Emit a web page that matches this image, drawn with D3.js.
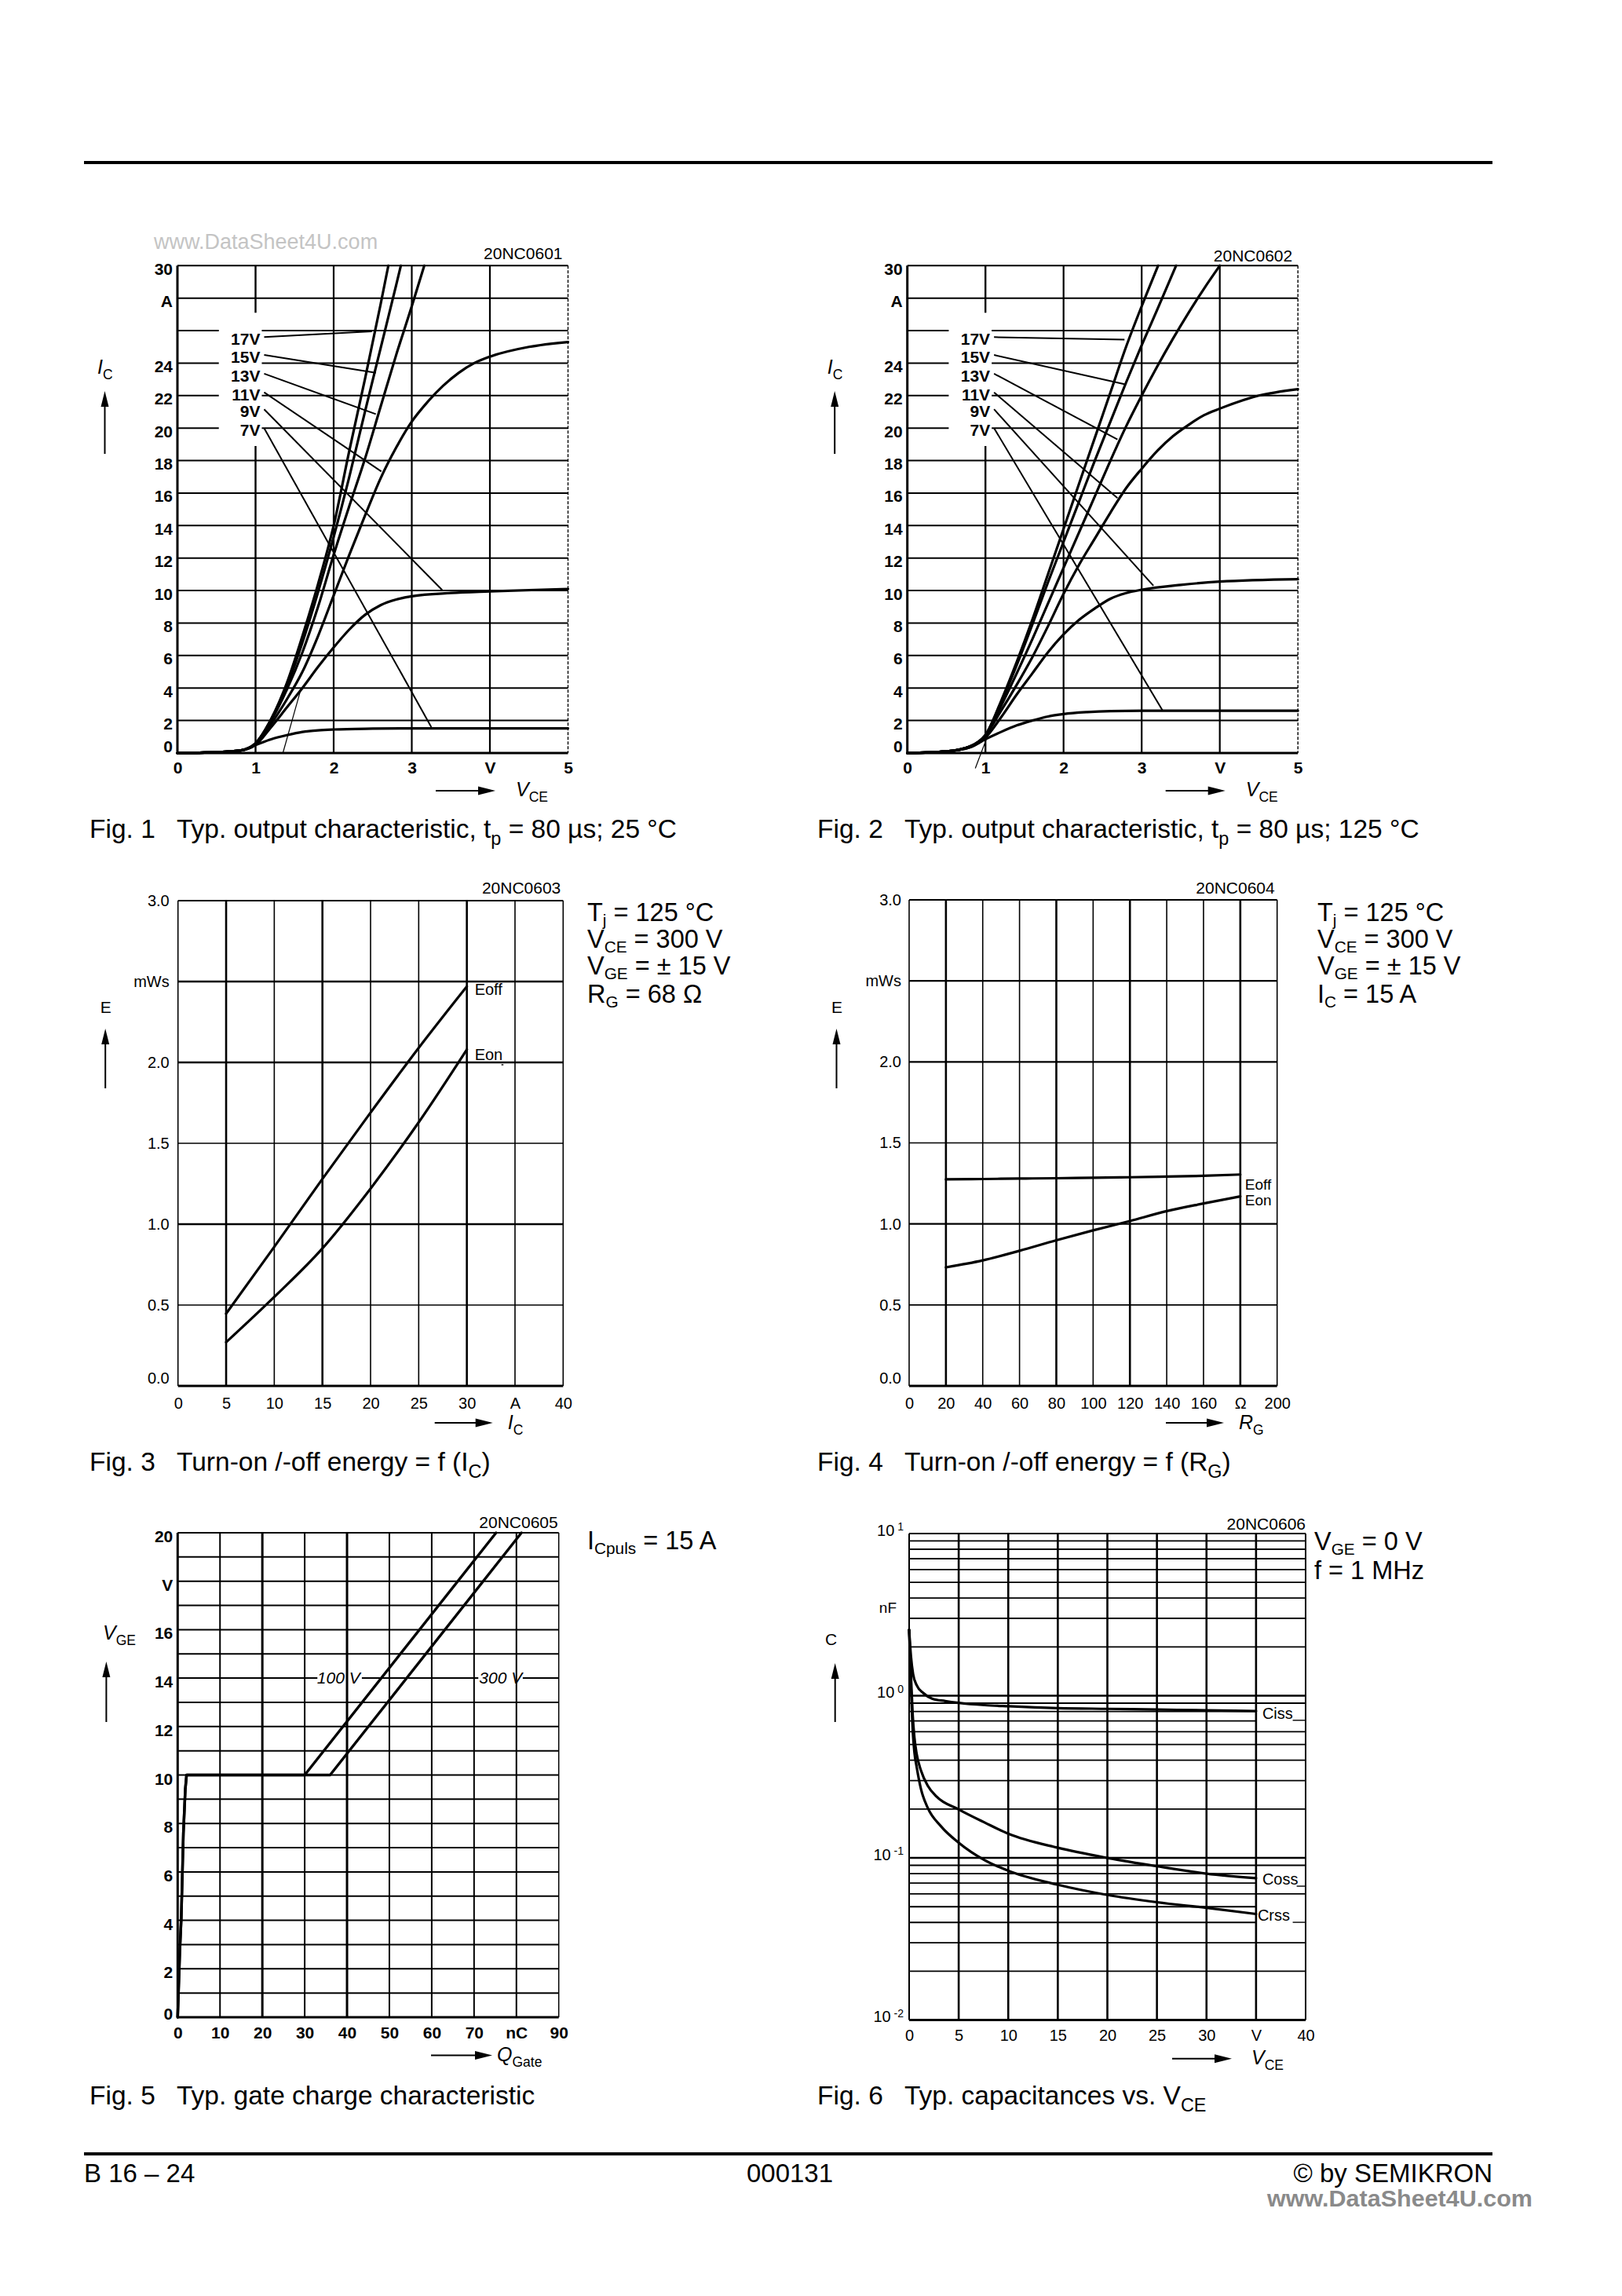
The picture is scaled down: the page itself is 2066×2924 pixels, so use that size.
<!DOCTYPE html>
<html><head><meta charset="utf-8">
<script src="https://cdn.jsdelivr.net/npm/d3@7"></script>
<style>
html,body{margin:0;padding:0;background:#fff;}
svg{display:block;background:#fff;}
</style></head><body>
<svg id="page" width="2066" height="2924"></svg>
<script>
// ================= DATA =================
// Fig 1: output characteristic 25 °C  [VCE (V), IC (A)]
const fig1Curve7V  = [[0,0],[0.5,0.05],[0.8,0.15],[1.0,0.5],[1.2,0.85],[1.4,1.1],[1.6,1.3],[1.8,1.4],[2.0,1.45],[2.5,1.5],[3.0,1.52],[5.0,1.52]];
const fig1Curve9V  = [[0,0],[0.5,0.05],[0.8,0.15],[1.0,0.5],[1.2,1.6],[1.4,2.8],[1.6,4.0],[1.8,5.3],[2.0,6.5],[2.2,7.6],[2.4,8.5],[2.6,9.1],[2.8,9.45],[3.0,9.65],[3.5,9.85],[4.0,9.95],[5.0,10.1]];
const fig1Curve11V = [[0,0],[0.5,0.05],[0.8,0.15],[1.0,0.55],[1.2,1.8],[1.4,3.3],[1.6,5.0],[1.8,7.2],[2.0,9.7],[2.2,12.2],[2.4,14.6],[2.6,16.9],[2.8,18.8],[3.0,20.4],[3.2,21.6],[3.4,22.6],[3.6,23.4],[3.8,24.0],[4.0,24.4],[4.5,25.0],[5.0,25.3]];
const fig1Curve13V = [[0,0],[0.5,0.05],[0.8,0.15],[1.0,0.6],[1.2,2.0],[1.4,3.9],[1.6,6.2],[1.8,9.0],[2.0,12.2],[2.2,15.2],[2.4,18.1],[2.6,21.3],[2.8,24.5],[3.0,27.5],[3.16,30]];
const fig1Curve15V = [[0,0],[0.5,0.05],[0.8,0.15],[1.0,0.6],[1.2,2.05],[1.4,4.1],[1.6,6.8],[1.8,9.9],[2.0,13.3],[2.2,17.0],[2.4,21.0],[2.6,24.9],[2.8,28.8],[2.86,30]];
const fig1Curve17V = [[0,0],[0.5,0.05],[0.8,0.15],[1.0,0.6],[1.2,2.1],[1.4,4.3],[1.6,7.2],[1.8,10.4],[2.0,14.0],[2.2,18.6],[2.4,23.0],[2.6,27.6],[2.70,30]];
const fig1LeaderStart = [[1.11,25.6],[1.11,24.5],[1.11,23.35],[1.11,22.2],[1.11,21.16],[1.11,20.0]];
const fig1LeaderEnd   = [[2.49,25.96],[2.54,23.4],[2.54,20.86],[2.61,17.33],[3.39,10.03],[3.25,1.6]];
const fig1Tangent = [[1.35,0],[1.57,3.75]];

// Fig 2: output characteristic 125 °C
const fig2Curve7V  = [[0,0],[0.5,0.1],[0.8,0.35],[1.0,0.85],[1.2,1.3],[1.4,1.7],[1.6,2.0],[1.8,2.25],[2.0,2.4],[2.3,2.52],[2.6,2.58],[3.0,2.6],[5.0,2.6]];
const fig2Curve9V  = [[0,0],[0.5,0.1],[0.8,0.35],[1.0,0.95],[1.2,2.2],[1.4,3.6],[1.6,4.9],[1.8,6.2],[2.0,7.3],[2.2,8.2],[2.4,8.9],[2.6,9.5],[2.8,9.85],[3.0,10.05],[3.5,10.35],[4.0,10.55],[5.0,10.7]];
const fig2Curve11V = [[0,0],[0.5,0.1],[0.8,0.4],[1.0,1.1],[1.2,2.6],[1.4,4.2],[1.6,5.9],[1.8,7.8],[2.0,9.8],[2.2,11.6],[2.4,13.2],[2.6,14.8],[2.8,16.3],[3.0,17.5],[3.2,18.6],[3.4,19.5],[3.6,20.2],[3.8,20.8],[4.0,21.2],[4.5,22.0],[5.0,22.4]];
const fig2Curve13V = [[0,0],[0.5,0.1],[0.8,0.4],[1.0,1.1],[1.2,2.9],[1.4,4.9],[1.6,7.0],[1.8,9.2],[2.0,11.4],[2.2,13.6],[2.4,15.8],[2.6,18.0],[2.8,20.1],[3.0,22.0],[3.2,23.8],[3.4,25.5],[3.6,27.1],[3.8,28.6],[4.0,30]];
const fig2Curve15V = [[0,0],[0.5,0.1],[0.8,0.4],[1.0,1.1],[1.2,3.1],[1.4,5.4],[1.6,7.9],[1.8,10.5],[2.0,13.0],[2.2,15.5],[2.4,18.0],[2.6,20.4],[2.8,22.8],[3.0,25.1],[3.2,27.3],[3.44,30]];
const fig2Curve17V = [[0,0],[0.5,0.1],[0.8,0.4],[1.0,1.1],[1.2,3.2],[1.4,5.6],[1.6,8.2],[1.8,11.0],[2.0,13.8],[2.2,16.6],[2.4,19.4],[2.6,22.2],[2.8,25.0],[3.0,27.5],[3.21,30]];
const fig2LeaderStart = [[1.11,25.6],[1.11,24.5],[1.11,23.35],[1.11,22.2],[1.11,21.16],[1.11,20.0]];
const fig2LeaderEnd   = [[2.78,25.45],[2.78,22.7],[2.69,19.3],[2.69,15.7],[3.15,10.3],[3.27,2.6]];
const fig2Tangent = [[0.87,-0.94],[1.07,1.6]];

const gateLabels = ["17V","15V","13V","11V","9V","7V"];
const fig12XTicks = [0,1,2,3,4,5];
const fig12XLabels = ["0","1","2","3","V","5"];
const fig12YTicks = [0,2,4,6,8,10,12,14,16,18,20,22,24,26,28,30];
const fig12YLabels = ["0","2","4","6","8","10","12","14","16","18","20","22","24","","A","30"];

// Fig 3: E = f(IC)  [IC (A), E (mWs)]
const fig3Eoff = [[5,0.447],[10,0.86],[15,1.28],[20,1.69],[25,2.09],[30,2.47]];
const fig3Eon  = [[5,0.27],[10,0.55],[15,0.85],[20,1.22],[25,1.63],[30,2.08]];
const fig3XTicks = [0,5,10,15,20,25,30,35,40];
const fig3XLabels = ["0","5","10","15","20","25","30","A","40"];

// Fig 4: E = f(RG)  [RG (Ohm), E (mWs)]
const fig4Eoff = [[20,1.275],[40,1.277],[60,1.28],[80,1.282],[100,1.285],[120,1.288],[140,1.292],[160,1.297],[180,1.305]];
const fig4Eon  = [[20,0.732],[40,0.775],[60,0.834],[80,0.899],[100,0.96],[120,1.018],[140,1.079],[160,1.126],[180,1.17]];
const fig4XTicks = [0,20,40,60,80,100,120,140,160,180,200];
const fig4XLabels = ["0","20","40","60","80","100","120","140","160","Ω","200"];

const energyYTicks = [0,0.5,1.0,1.5,2.0,2.5,3.0];
const energyYLabels = ["0.0","0.5","1.0","1.5","2.0","mWs","3.0"];

// Fig 5: gate charge  [QGate (nC), VGE (V)]
const fig5Curve100V = [[0,0],[0.5,2.7],[0.85,4.1],[1.35,7.6],[1.8,9.4],[2.1,10],[30,10],[75.2,20]];
const fig5Curve300V = [[0,0],[0.5,2.7],[0.85,4.1],[1.35,7.6],[1.8,9.4],[2.1,10],[36,10],[81.2,20]];
const fig5XTicks = [0,10,20,30,40,50,60,70,80,90];
const fig5XLabels = ["0","10","20","30","40","50","60","70","nC","90"];
const fig5YTicks = [0,2,4,6,8,10,12,14,16,18,20];
const fig5YLabels = ["0","2","4","6","8","10","12","14","16","V","20"];

// Fig 6: capacitances  [VCE (V), C (nF)]
const fig6Ciss = [[0,2.55],[0.18,1.76],[0.4,1.36],[0.76,1.16],[1.42,1.04],[2.31,0.96],[3.64,0.927],[5,0.903],[7.64,0.875],[10,0.861],[15,0.839],[20,0.83],[25,0.822],[30,0.813],[35,0.805]];
const fig6Coss = [[0,2.55],[0.18,1.36],[0.36,0.76],[0.53,0.554],[0.76,0.437],[1.2,0.345],[1.87,0.279],[2.76,0.239],[5,0.199],[7.64,0.165],[10,0.141],[15,0.1155],[20,0.1],[25,0.0888],[30,0.080],[35,0.075]];
const fig6Crss = [[0,2.55],[0.18,1.16],[0.36,0.615],[0.53,0.449],[0.76,0.364],[1.2,0.265],[1.87,0.204],[3.2,0.157],[5,0.124],[7.64,0.0966],[10,0.0833],[15,0.0683],[20,0.0591],[25,0.0533],[30,0.0492],[35,0.0451]];
const fig6XTicks = [0,5,10,15,20,25,30,35,40];
const fig6XLabels = ["0","5","10","15","20","25","30","V","40"];
const fig6YDecades = [10,1,0.1,0.01];
const fig6YExponents = ["1","0","-1","-2"];
const fig6Minor = [0.02,0.03,0.04,0.05,0.06,0.07,0.08,0.09,0.2,0.3,0.4,0.5,0.6,0.7,0.8,0.9,2,3,4,5,6,7,8,9];
const fig6ShortMinor = [0.8,0.7,0.08,0.07,0.05,0.04];

// ================= DRAWING =================
const FONT = '"Liberation Sans", Arial, Helvetica, sans-serif';
const svg = d3.select("#page");
svg.append("rect").attr("width",2066).attr("height",2924).attr("fill","#fff");

function seg(g,x1,y1,x2,y2,w,dash){
  const l = g.append("line").attr("x1",x1).attr("y1",y1).attr("x2",x2).attr("y2",y2)
    .attr("stroke","#000").attr("stroke-width",w);
  if(dash) l.attr("stroke-dasharray",dash);
  return l;
}
function rich(g,x,y,parts,size,opts={}){
  const t = g.append("text").attr("x",x).attr("y",y).attr("font-size",size)
    .attr("font-family",FONT).attr("fill",opts.fill||"#000")
    .attr("text-anchor",opts.anchor||"start");
  if(opts.weight) t.attr("font-weight",opts.weight);
  if(opts.style) t.attr("font-style",opts.style);
  const subK = opts.subK || 0.28, subS = opts.subS || 0.7;
  let shift = 0;
  parts.forEach(p=>{
    const o = typeof p === "string" ? {t:p} : p;
    const target = o.sub ? size*subK : (o.sup ? -size*0.42 : 0);
    const ts = t.append("tspan").text(o.t).attr("dy",target-shift);
    shift = target;
    if(o.sub||o.sup) ts.attr("font-size",size*subS);
    if(o.italic) ts.attr("font-style","italic");
  });
  return t;
}
function upArrow(g,x,top,bottom){
  seg(g,x,bottom,x,top+12,2);
  g.append("path").attr("d",`M${x},${top} L${x-5},${top+20} L${x+5},${top+20} Z`).attr("fill","#000");
}
function rightArrow(g,x1,x2,y){
  seg(g,x1,y,x2-12,y,2);
  g.append("path").attr("d",`M${x2},${y} L${x2-22},${y-5.5} L${x2-22},${y+5.5} Z`).attr("fill","#000");
}
function axisText(g,scale,orient,values,labels,o){
  const ax = (orient==="left"?d3.axisLeft(scale):d3.axisBottom(scale))
    .tickValues(values).tickFormat((d,i)=>labels[i]).tickSize(0).tickPadding(o.pad);
  const a = g.append("g")
    .attr("transform", orient==="left"?`translate(${o.at},0)`:`translate(0,${o.at})`)
    .call(ax);
  a.select(".domain").remove();
  a.selectAll(".tick line").remove();
  a.selectAll("text").attr("font-size",o.size).attr("font-family",FONT)
    .attr("font-weight",o.weight||"normal").attr("fill","#000");
  if(o.dy) a.selectAll("text").attr("dy",o.dy);
  if(o.zeroDy) a.selectAll("text").filter(d=>d===0).attr("dy",o.zeroDy);
  return a;
}
function drawCurve(g,x,y,data,w,curve){
  const line = d3.line().x(d=>x(d[0])).y(d=>y(d[1])).curve(curve||d3.curveMonotoneX);
  g.append("path").datum(data).attr("d",line).attr("fill","none")
    .attr("stroke","#000").attr("stroke-width",w).attr("stroke-linejoin","round").attr("stroke-linecap","round");
}

// ---------- header / footer ----------
svg.append("rect").attr("x",107).attr("y",205).attr("width",1794).attr("height",4).attr("fill","#000");
svg.append("rect").attr("x",107).attr("y",2741).attr("width",1794).attr("height",4).attr("fill","#000");
rich(svg,196,317,["www.DataSheet4U.com"],27,{fill:"#c4c4c4"});
rich(svg,107,2779,["B 16 – 24"],33);
rich(svg,1006,2779,["000131"],33,{anchor:"middle"});
rich(svg,1901,2779,["© by SEMIKRON"],33,{anchor:"end"});
svg.append("text").attr("x",1614).attr("y",2810).attr("font-family",FONT).attr("font-size",30)
  .attr("font-weight","bold").attr("fill","#8a8a8a").attr("textLength",338).attr("lengthAdjust","spacingAndGlyphs")
  .text("www.DataSheet4U.com");

// ---------- Fig 1 & 2 ----------
function outputChart(cfg){
  const g = svg.append("g");
  const x = d3.scaleLinear().domain([0,5]).range([cfg.l,cfg.r]);
  const y = d3.scaleLinear().domain([0,30]).range([cfg.b,cfg.t]);
  fig12YTicks.forEach(v=>{
    if(v===0||v===30) return;
    if(v>=20 && v<=26){ seg(g,x(0),y(v),x(0.53),y(v),2); seg(g,x(1.08),y(v),x(5),y(v),2); }
    else seg(g,x(0),y(v),x(5),y(v),2);
  });
  [1,2,3,4].forEach(v=>{
    if(v===1){ seg(g,x(1),y(30),x(1),y(27.1),2.4); seg(g,x(1),y(18.9),x(1),y(0),2.4); }
    else seg(g,x(v),y(30),x(v),y(0),2.2);
  });
  seg(g,x(0),y(0),x(0),y(30),3);
  seg(g,x(0),y(0),x(5),y(0),3);
  seg(g,x(0),y(30),x(5),y(30),2);
  seg(g,x(5),y(30),x(5),y(0),1.4,"4,2");
  axisText(g,y,"left",fig12YTicks,fig12YLabels,{at:cfg.l,pad:6,size:21,weight:"bold",dy:"0.52em",zeroDy:"-0.05em"});
  axisText(g,x,"bottom",fig12XTicks,fig12XLabels,{at:cfg.b,pad:11,size:21,weight:"bold"});
  cfg.starts.forEach((s,i)=>{
    const e = cfg.ends[i];
    seg(g,x(s[0]),y(s[1]),x(e[0]),y(e[1]),2);
    rich(g,x(s[0])-5,y(s[1])+10,[gateLabels[i]],21,{anchor:"end",weight:"bold"});
  });
  seg(g,x(cfg.tangent[0][0]),y(cfg.tangent[0][1]),x(cfg.tangent[1][0]),y(cfg.tangent[1][1]),1.2);
  cfg.curves.forEach(c=>drawCurve(g,x,y,c,3.2));
  rich(g,cfg.r-7,cfg.idY,[cfg.id],21,{anchor:"end"});
  rich(g,cfg.l-102,476,[{t:"I",italic:true},{t:"C",sub:true}],25);
  upArrow(g,cfg.l-92.5,498,578);
  rightArrow(g,cfg.l+329,cfg.l+405,1007);
  rich(g,cfg.l+431,1014,[{t:"V",italic:true},{t:"CE",sub:true}],25);
  return {x,y,g};
}
outputChart({l:226,r:723.5,t:338.3,b:959,id:"20NC0601",idY:330,
  curves:[fig1Curve7V,fig1Curve9V,fig1Curve11V,fig1Curve13V,fig1Curve15V,fig1Curve17V],
  starts:fig1LeaderStart,ends:fig1LeaderEnd,tangent:fig1Tangent});
outputChart({l:1155.7,r:1653.2,t:338.3,b:959,id:"20NC0602",idY:333,
  curves:[fig2Curve7V,fig2Curve9V,fig2Curve11V,fig2Curve13V,fig2Curve15V,fig2Curve17V],
  starts:fig2LeaderStart,ends:fig2LeaderEnd,tangent:fig2Tangent});

rich(svg,114,1067,["Fig. 1"],33.5);
rich(svg,225,1067,["Typ. output characteristic, t",{t:"p",sub:true}," = 80 µs; 25 °C"],33.5);
rich(svg,1041,1067,["Fig. 2"],33.5);
rich(svg,1152,1067,["Typ. output characteristic, t",{t:"p",sub:true}," = 80 µs; 125 °C"],33.5);

// ---------- Fig 3 & 4 ----------
function energyChart(cfg){
  const g = svg.append("g");
  const x = d3.scaleLinear().domain(cfg.xd).range([cfg.l,cfg.r]);
  const y = d3.scaleLinear().domain([0,3]).range([cfg.b,cfg.t]);
  cfg.vgrid.forEach(v=>seg(g,x(v),y(3),x(v),y(0),cfg.thick.includes(v)?2.6:1.6));
  [0.5,1.0,1.5,2.0,2.5].forEach(v=>seg(g,x(cfg.xd[0]),y(v),x(cfg.xd[1]),y(v),(v===2.0||v===2.5||v===1.0)?2.4:1.6));
  seg(g,x(cfg.xd[0]),y(0),x(cfg.xd[1]),y(0),3);
  seg(g,x(cfg.xd[0]),y(0),x(cfg.xd[0]),y(3),1.6);
  seg(g,x(cfg.xd[0]),y(3),x(cfg.xd[1]),y(3),2);
  seg(g,x(cfg.xd[1]),y(3),x(cfg.xd[1]),y(0),1.6);
  axisText(g,y,"left",energyYTicks,energyYLabels,{at:cfg.l,pad:cfg.ypad,size:20,zeroDy:"-0.2em"});
  axisText(g,x,"bottom",cfg.xticks,cfg.xlabels,{at:cfg.b,pad:15,size:20});
  drawCurve(g,x,y,cfg.eoff,3.2);
  drawCurve(g,x,y,cfg.eon,3.2);
  rich(g,cfg.r-3,1137.5,[cfg.id],21,{anchor:"end"});
  rich(g,cfg.l-99,1290,["E"],21);
  upArrow(g,cfg.l-92.5,1310,1386);
  rightArrow(g,cfg.l+327,cfg.l+401,1812);
  rich(g,cfg.l+420,1820,cfg.xtitle,25);
  return {x,y,g};
}
const f3 = energyChart({l:226.7,r:717.3,t:1147,b:1765,xd:[0,40],vgrid:[5,10,15,20,25,30,35],thick:[5,15,30],
  xticks:fig3XTicks,xlabels:fig3XLabels,eoff:fig3Eoff,eon:fig3Eon,id:"20NC0603",ypad:11,
  xtitle:[{t:"I",italic:true},{t:"C",sub:true}]});
rich(f3.g,f3.x(30)+10,f3.y(2.45)+7,["Eoff"],20);
rich(f3.g,f3.x(30)+10,f3.y(2.05)+7,["Eon"],20);
seg(f3.g,f3.x(30)+44,f3.y(2.0)+3,f3.x(33.8),f3.y(2.0)+3,1.4);

const f4 = energyChart({l:1158,r:1626.7,t:1146,b:1765,xd:[0,200],vgrid:[20,40,60,80,100,120,140,160,180],thick:[20,80,120,180],
  xticks:fig4XTicks,xlabels:fig4XLabels,eoff:fig4Eoff,eon:fig4Eon,id:"20NC0604",ypad:10,
  xtitle:[{t:"R",italic:true},{t:"G",sub:true}]});
rich(f4.g,f4.x(180)+6,f4.y(1.245)+7,["Eoff"],19);
rich(f4.g,f4.x(180)+6,f4.y(1.15)+7,["Eon"],19);

const annot = [
  [{t:"T"},{t:"j",sub:true},{t:" = 125 °C"}],
  [{t:"V"},{t:"CE",sub:true},{t:" = 300 V"}],
  [{t:"V"},{t:"GE",sub:true},{t:" = ± 15 V"}],
];
const aOpt = {subK:0.18, subS:0.64};
const annotY = [1173,1207,1241,1277];
annot.forEach((p,i)=>{ rich(svg,748,annotY[i],p,32.5,aOpt); rich(svg,1678,annotY[i],p,32.5,aOpt); });
rich(svg,748,annotY[3],["R",{t:"G",sub:true}," = 68 Ω"],32.5,aOpt);
rich(svg,1678,annotY[3],["I",{t:"C",sub:true}," = 15 A"],32.5,aOpt);

rich(svg,114,1873,["Fig. 3"],33.5);
rich(svg,225,1873,["Turn-on /-off energy = f (I",{t:"C",sub:true},")"],33.5);
rich(svg,1041,1873,["Fig. 4"],33.5);
rich(svg,1152,1873,["Turn-on /-off energy = f (R",{t:"G",sub:true},")"],33.5);

// ---------- Fig 5 ----------
(function(){
  const g = svg.append("g");
  const l=226.3,r=711.7,t=1952,b=2569;
  const x = d3.scaleLinear().domain([0,90]).range([l,r]);
  const y = d3.scaleLinear().domain([0,20]).range([b,t]);
  d3.range(1,20).forEach(v=>{
    if(v===14){ seg(g,x(0),y(v),x(33),y(v),2); seg(g,x(43.5),y(v),x(71),y(v),2); seg(g,x(81.5),y(v),x(90),y(v),2); }
    else seg(g,x(0),y(v),x(90),y(v),2);
  });
  [10,20,30,40,50,60,70,80].forEach(v=>seg(g,x(v),y(20),x(v),y(0),(v===20||v===40)?3:2));
  seg(g,x(0),y(0),x(0),y(20),3);
  seg(g,x(0),y(0),x(90),y(0),3);
  seg(g,x(0),y(20),x(90),y(20),2);
  seg(g,x(90),y(20),x(90),y(0),1.5);
  axisText(g,y,"left",fig5YTicks,fig5YLabels,{at:l,pad:6,size:21,weight:"bold",dy:"0.55em",zeroDy:"0.1em"});
  axisText(g,x,"bottom",fig5XTicks,fig5XLabels,{at:b,pad:12,size:21,weight:"bold"});
  drawCurve(g,x,y,fig5Curve300V,3.4,d3.curveLinear);
  drawCurve(g,x,y,fig5Curve100V,3.4,d3.curveLinear);
  rich(g,x(38),y(14)+7,["100 V"],21,{anchor:"middle",style:"italic"});
  rich(g,x(76.3),y(14)+7,["300 V"],21,{anchor:"middle",style:"italic"});
  rich(g,r-1,1945.5,["20NC0605"],21,{anchor:"end"});
  rich(g,131,2088,[{t:"V",italic:true},{t:"GE",sub:true}],25);
  upArrow(g,135.4,2116,2193);
  rightArrow(g,549,627,2617.5);
  rich(g,633,2625,[{t:"Q",italic:true},{t:"Gate",sub:true}],25);
})();
rich(svg,748,1973,["I",{t:"Cpuls",sub:true}," = 15 A"],32.5,aOpt);
rich(svg,114,2680,["Fig. 5"],33.5);
rich(svg,225,2680,["Typ. gate charge characteristic"],33.5);

// ---------- Fig 6 ----------
(function(){
  const g = svg.append("g");
  const l=1158,r=1663,t=1953,b=2572.6;
  const x = d3.scaleLinear().domain([0,40]).range([l,r]);
  const y = d3.scaleLog().domain([0.01,10]).range([b,t]);
  fig6Minor.forEach(v=>{
    const end = fig6ShortMinor.includes(v) ? 35 : 40;
    seg(g,x(0),y(v),x(end),y(v),1.8);
  });
  [1,0.1].forEach(v=>seg(g,x(0),y(v),x(40),y(v),2.4));
  [5,10,15,20,25,30,35].forEach(v=>seg(g,x(v),y(10),x(v),y(0.01),2.6));
  seg(g,x(0),y(0.01),x(40),y(0.01),3);
  seg(g,x(0),y(0.01),x(0),y(10),2);
  seg(g,x(0),y(10),x(40),y(10),2);
  seg(g,x(40),y(10),x(40),y(0.01),2);
  const ya = axisText(g,y,"left",fig6YDecades,fig6YDecades.map(()=>"10"),{at:l,pad:7,size:20,dy:"0.1em"});
  ya.selectAll("text").each(function(d,i){
    d3.select(this).append("tspan").attr("dy","-0.45em").attr("font-size",14).text(" "+fig6YExponents[i]);
  });
  rich(g,l-16,y(3.5)+7,["nF"],19,{anchor:"end"});
  axisText(g,x,"bottom",fig6XTicks,fig6XLabels,{at:b,pad:12,size:20});
  drawCurve(g,x,y,fig6Ciss,3.2);
  drawCurve(g,x,y,fig6Coss,3.2);
  drawCurve(g,x,y,fig6Crss,3.2);
  rich(g,x(35)+8,y(0.78)+7,["Ciss"],20);
  seg(g,x(38.7),y(0.78)+9,x(40),y(0.78)+9,1.4);
  rich(g,x(35)+8,y(0.074)+7,["Coss"],20);
  seg(g,x(39.1),y(0.074)+9,x(40),y(0.074)+9,1.4);
  rich(g,x(35)+2,y(0.0443)+7,["Crss"],20);
  seg(g,x(38.7),y(0.0443)+9,x(40),y(0.0443)+9,1.4);
  rich(g,r,1947.5,["20NC0606"],21,{anchor:"end"});
  rich(g,1051,2095,["C"],21);
  upArrow(g,1063.7,2118,2193);
  rightArrow(g,1493,1569,2621.7);
  rich(g,1594,2629,[{t:"V",italic:true},{t:"CE",sub:true}],25);
})();
rich(svg,1674,1974,["V",{t:"GE",sub:true}," = 0 V"],32.5,aOpt);
rich(svg,1674,2011,["f = 1 MHz"],32.5);
rich(svg,1041,2680,["Fig. 6"],33.5);
rich(svg,1152,2680,["Typ. capacitances vs. V",{t:"CE",sub:true}],33.5);
</script>
</body></html>
